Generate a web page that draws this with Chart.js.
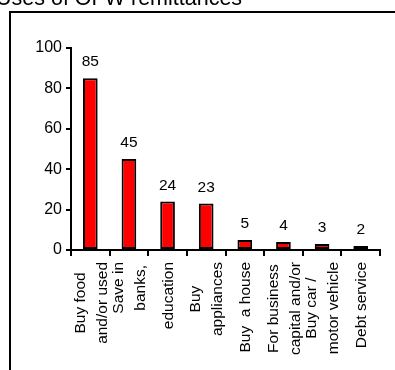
<!DOCTYPE html>
<html>
<head>
<meta charset="utf-8">
<script src="https://cdn.jsdelivr.net/npm/chart.js@4.4.1/dist/chart.umd.min.js"></script>
<style>
  html, body { margin: 0; padding: 0; background: #fff; }
  #wrap { position: relative; width: 395px; height: 370px; overflow: hidden; }
  canvas { display: block; }
</style>
</head>
<body>
<div id="wrap"><canvas id="chart" width="395" height="370"></canvas></div>
<script>
// Survey results: what OFW households spend remittances on (percent of respondents)
const chartTitle = 'Uses of OFW remittances';
const categories = [
  ['Buy food', 'and/or used'],
  ['Save in', 'banks,'],
  ['education'],
  ['Buy', 'appliances'],
  ['Buy  a house'],
  ['For business', 'capital and/or'],
  ['Buy car /', 'motor vehicle'],
  ['Debt service']
];
const percentages = [85, 45, 24, 23, 5, 4, 3, 2];
const yTickValues = [0, 20, 40, 60, 80, 100];

const FONT = '"Liberation Sans", Arial, Helvetica, sans-serif';
const INK = '#000';

Chart.defaults.font.family = FONT;
Chart.defaults.color = INK;

// Outer frame and the heading above it
const framePlugin = {
  id: 'frame',
  beforeDraw(chart) {
    const ctx = chart.ctx;
    ctx.save();
    ctx.strokeStyle = INK;
    ctx.lineWidth = 2;
    ctx.strokeRect(10, 12, 600, 600);
    ctx.fillStyle = INK;
    ctx.font = '21.5px ' + FONT;
    ctx.textAlign = 'left';
    ctx.textBaseline = 'alphabetic';
    ctx.fillText(chartTitle, -4, 5);
    ctx.restore();
  }
};

// Value labels above each bar
const valueLabels = {
  id: 'valueLabels',
  afterDatasetsDraw(chart) {
    const ctx = chart.ctx;
    const meta = chart.getDatasetMeta(0);
    ctx.save();
    ctx.fillStyle = INK;
    ctx.font = '15.5px ' + FONT;
    ctx.textAlign = 'center';
    ctx.textBaseline = 'alphabetic';
    meta.data.forEach((bar, i) => {
      ctx.fillText(String(percentages[i]), bar.x, bar.y - 12);
    });
    ctx.restore();
  }
};

// Vertical category labels, each line centred inside its block
const categoryLabels = {
  id: 'categoryLabels',
  afterDraw(chart) {
    const ctx = chart.ctx;
    const xs = chart.scales.x;
    const top = chart.chartArea.bottom + 12;
    const lineStep = 22;
    ctx.save();
    ctx.fillStyle = INK;
    ctx.font = '15.5px ' + FONT;
    ctx.textAlign = 'center';
    ctx.textBaseline = 'middle';
    categories.forEach((lines, i) => {
      const cx = xs.getPixelForValue(i) + 1;
      const widest = Math.max(...lines.map(l => ctx.measureText(l).width));
      const cy = top + widest / 2;
      lines.forEach((line, j) => {
        const off = (j - (lines.length - 1) / 2) * lineStep;
        ctx.save();
        ctx.translate(cx + off, cy);
        ctx.rotate(-Math.PI / 2);
        ctx.fillText(line, 0, 0);
        ctx.restore();
      });
    });
    ctx.restore();
  }
};

new Chart(document.getElementById('chart'), {
  type: 'bar',
  data: {
    labels: categories,
    datasets: [{
      data: percentages,
      backgroundColor: '#ff0000',
      borderColor: INK,
      borderWidth: 2,
      borderSkipped: false,
      barPercentage: 0.38,
      categoryPercentage: 1
    }]
  },
  options: {
    responsive: false,
    animation: false,
    devicePixelRatio: 1,
    layout: { padding: { top: 48, right: 15, bottom: 110, left: 0 } },
    plugins: {
      legend: { display: false },
      title: { display: false },
      tooltip: { enabled: false }
    },
    scales: {
      x: {
        offset: true,
        grid: {
          display: true,
          offset: true,
          drawOnChartArea: false,
          drawTicks: true,
          tickLength: 6,
          lineWidth: 2,
          color: INK
        },
        border: { display: true, color: INK, width: 2 },
        ticks: { display: false },
        afterFit(scale) { scale.height = 10; }
      },
      y: {
        min: 0,
        max: 100,
        afterBuildTicks(scale) {
          scale.ticks = yTickValues.map(v => ({ value: v }));
        },
        ticks: {
          font: { size: 16 },
          color: INK,
          padding: 4
        },
        grid: {
          drawOnChartArea: false,
          drawTicks: true,
          tickLength: 5,
          lineWidth: 2,
          color: INK
        },
        border: { display: true, color: INK, width: 2 },
        afterFit(scale) { scale.width = 71; }
      }
    }
  },
  plugins: [framePlugin, valueLabels, categoryLabels]
});
</script>
</body>
</html>
